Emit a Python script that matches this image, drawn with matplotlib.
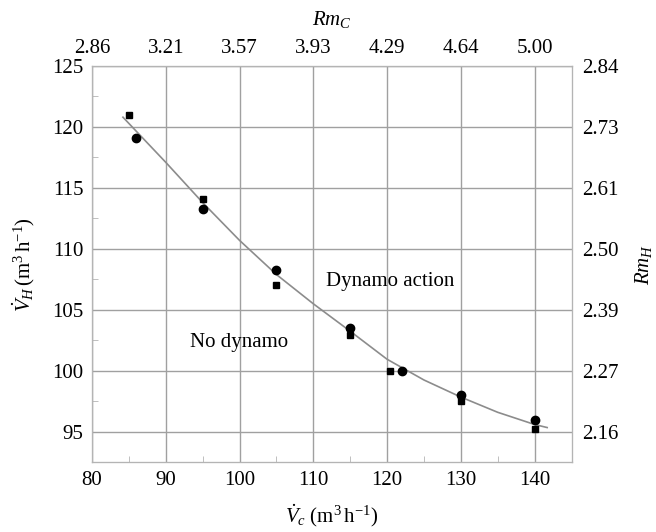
import matplotlib
matplotlib.use("Agg")
import matplotlib.pyplot as plt
from matplotlib.ticker import MultipleLocator

plt.rcParams["font.family"] = "Liberation Serif"
plt.rcParams["mathtext.fontset"] = "custom"
plt.rcParams["mathtext.rm"] = "Liberation Serif"
plt.rcParams["mathtext.it"] = "Liberation Serif:italic"

# measured onset points
square_vc = [85, 95, 105, 115, 120.4, 130, 140]
square_vh = [121.0, 114.1, 107.0, 102.9, 100.0, 97.5, 95.2]
circle_vc = [86, 95, 105, 115, 122, 130, 140]
circle_vh = [119.1, 113.3, 108.3, 103.5, 100.0, 98.0, 96.0]

# threshold curve
curve_vc = [84.2, 90, 95, 100, 105, 110, 115, 120, 125, 130, 135, 140, 141.7]
curve_vh = [120.8, 117.1, 113.8, 110.7, 107.9, 105.5, 103.25, 100.95, 99.25,
            97.85, 96.6, 95.6, 95.35]

vc_ticks = [80, 90, 100, 110, 120, 130, 140]
rmc_labels = ["2.86", "3.21", "3.57", "3.93", "4.29", "4.64", "5.00"]
vh_ticks = [95, 100, 105, 110, 115, 120, 125]
rmh_labels = ["2.16", "2.27", "2.39", "2.50", "2.61", "2.73", "2.84"]

grid_c = "#a0a0a0"
spine_c = "#b4b4b4"
fs = 15

fig = plt.figure(figsize=(6.56, 5.32), dpi=100)
ax = fig.add_axes([0.1402, 0.131, 0.7310, 0.745])

ax.plot(curve_vc, curve_vh, color="#8c8c8c", lw=1.2, zorder=3)
ax.plot(square_vc, square_vh, "s", color="black", ms=5, zorder=4)
ax.plot(circle_vc, circle_vh, "o", color="black", ms=6, zorder=4)

ax.text(120.4, 107.3, "Dynamo action", fontsize=fs, ha="center", va="center")
ax.text(99.9, 102.3, "No dynamo", fontsize=fs, ha="center", va="center")

ax.set_xlim(80, 145)
ax.set_ylim(92.5, 125)
ax.set_xticks(vc_ticks)
ax.set_yticks(vh_ticks)
ax.xaxis.set_minor_locator(MultipleLocator(5))
ax.yaxis.set_minor_locator(MultipleLocator(2.5))
ax.grid(True, which="major", color=grid_c, lw=1.0)
ax.set_axisbelow(True)
ax.tick_params(which="major", length=0, labelsize=fs, pad=6)
ax.tick_params(which="minor", direction="in", length=4, color=spine_c,
               top=True, right=True)
for s in ax.spines.values():
    s.set_color(spine_c)

ax.set_xlabel(r"$\dot{V}_c\ (\mathrm{m}^3\,\mathrm{h}^{-1})$", fontsize=fs, labelpad=9)
ax.set_ylabel(r"$\dot{V}_H\,(\mathrm{m}^3\,\mathrm{h}^{-1})$", fontsize=fs, labelpad=11)

# Rm scales on the opposite axes
top = ax.twiny()
top.set_xlim(ax.get_xlim())
top.set_xticks(vc_ticks)
top.set_xticklabels(rmc_labels)
top.tick_params(length=0, labelsize=fs, pad=6)
top.set_xlabel(r"$Rm_C$", fontsize=fs, labelpad=10)

right = ax.twinx()
right.set_ylim(ax.get_ylim())
right.set_yticks(vh_ticks)
right.set_yticklabels(rmh_labels)
right.tick_params(length=0, labelsize=fs, pad=8)
right.set_ylabel(r"$Rm_H$", fontsize=fs, labelpad=10)

for a in (top, right):
    for s in a.spines.values():
        s.set_color(spine_c)

fig.savefig("out.png", dpi=100)
